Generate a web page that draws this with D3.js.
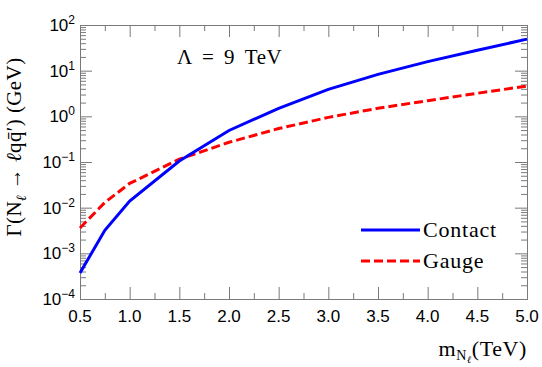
<!DOCTYPE html>
<html>
<head>
<meta charset="utf-8">
<script src="https://cdn.jsdelivr.net/npm/d3@7"></script>
<style>
  body { margin: 0; background: #fff; }
  svg { display: block; }
</style>
</head>
<body>
<svg width="542" height="367"></svg>
<script>
// heavy neutrino mass (TeV)
const masses = [0.5, 0.75, 1.0, 1.5, 2.0, 2.5, 3.0, 3.5, 4.0, 4.5, 5.0];
// decay width in GeV
const contactWidth = [3.7e-4, 3.2e-3, 0.014, 0.105, 0.49, 1.5, 3.9, 8.3, 15.8, 28, 49];
const gaugeWidth = [3.6e-3, 0.013, 0.034, 0.115, 0.27, 0.54, 0.95, 1.5, 2.2, 3.2, 4.6];
const xTicks = [0.5, 1.0, 1.5, 2.0, 2.5, 3.0, 3.5, 4.0, 4.5, 5.0];
const yDecades = [-4, -3, -2, -1, 0, 1, 2];

const svg = d3.select("svg");
const pLeft = 80, pRight = 527, pTop = 25, pBottom = 299;
const axisColor = "#7a7a7a";

const x = d3.scaleLinear().domain([0.5, 5]).range([pLeft, pRight]);
const y = d3.scaleLog().domain([1e-4, 1e2]).range([pBottom, pTop]);

// minor tick values
const xMinor = d3.range(0.5, 5.001, 0.25).filter(v => Math.abs(v * 2 - Math.round(v * 2)) > 1e-6);
const yMinor = [];
yDecades.slice(0, -1).forEach(e => {
  for (let k = 2; k <= 9; k++) yMinor.push(k * Math.pow(10, e));
});
const yMajor = yDecades.map(e => Math.pow(10, e));

function styleAxis(g) {
  g.select(".domain").attr("stroke", axisColor);
  g.selectAll(".tick line").attr("stroke", axisColor);
  g.selectAll(".tick text").remove();
}

// bottom + top axes, ticks pointing inward
svg.append("g").attr("transform", `translate(0,${pBottom})`)
  .call(d3.axisBottom(x).tickValues(xTicks).tickSize(-12).tickSizeOuter(0)).call(styleAxis);
svg.append("g").attr("transform", `translate(0,${pBottom})`)
  .call(d3.axisBottom(x).tickValues(xMinor).tickSize(-6).tickSizeOuter(0)).call(styleAxis);
svg.append("g").attr("transform", `translate(0,${pTop})`)
  .call(d3.axisTop(x).tickValues(xTicks).tickSize(-12).tickSizeOuter(0)).call(styleAxis);
svg.append("g").attr("transform", `translate(0,${pTop})`)
  .call(d3.axisTop(x).tickValues(xMinor).tickSize(-6).tickSizeOuter(0)).call(styleAxis);

// left + right axes
svg.append("g").attr("transform", `translate(${pLeft},0)`)
  .call(d3.axisLeft(y).tickValues(yMajor).tickSize(-12).tickSizeOuter(0)).call(styleAxis);
svg.append("g").attr("transform", `translate(${pLeft},0)`)
  .call(d3.axisLeft(y).tickValues(yMinor).tickSize(-6).tickSizeOuter(0)).call(styleAxis);
svg.append("g").attr("transform", `translate(${pRight},0)`)
  .call(d3.axisRight(y).tickValues(yMajor).tickSize(-12).tickSizeOuter(0)).call(styleAxis);
svg.append("g").attr("transform", `translate(${pRight},0)`)
  .call(d3.axisRight(y).tickValues(yMinor).tickSize(-6).tickSizeOuter(0)).call(styleAxis);

const sans = "'Liberation Sans', Arial, sans-serif";
const serif = "'Liberation Serif', 'Times New Roman', serif";

// tick labels
svg.append("g").selectAll("text").data(xTicks).join("text")
  .attr("x", d => x(d)).attr("y", pBottom + 23)
  .attr("text-anchor", "middle")
  .attr("font-family", sans)
  .attr("font-size", 17)
  .text(d => d.toFixed(1));

const yl = svg.append("g").selectAll("text").data(yDecades).join("text")
  .attr("x", pLeft - 5).attr("y", d => y(Math.pow(10, d)) + 6)
  .attr("text-anchor", "end")
  .attr("font-family", sans)
  .attr("font-size", 17);
yl.append("tspan").text("10");
yl.append("tspan").attr("dy", -7).attr("font-size", 12)
  .text(d => d < 0 ? "\u2212" + (-d) : String(d));

// curves
const line = d3.line().x(d => x(d[0])).y(d => y(d[1]));
svg.append("path").datum(masses.map((m, i) => [m, gaugeWidth[i]]))
  .attr("d", line).attr("fill", "none").attr("stroke", "#ff0000")
  .attr("stroke-width", 3).attr("stroke-dasharray", "9,4");
svg.append("path").datum(masses.map((m, i) => [m, contactWidth[i]]))
  .attr("d", line).attr("fill", "none").attr("stroke", "#0000ff")
  .attr("stroke-width", 3);

// legend
const legend = [
  { name: "Contact", color: "#0000ff", dash: null },
  { name: "Gauge", color: "#ff0000", dash: "9,4" }
];
legend.forEach((d, i) => {
  const ly = 230 + i * 31;
  svg.append("line").attr("x1", 361).attr("x2", 420).attr("y1", ly).attr("y2", ly)
    .attr("stroke", d.color).attr("stroke-width", 3)
    .attr("stroke-dasharray", d.dash);
  svg.append("text").attr("x", 423).attr("y", ly + 7)
    .attr("font-family", serif).attr("font-size", 22)
    .attr("letter-spacing", 0.8).text(d.name);
});

// annotation
svg.append("text").attr("x", 177).attr("y", 64)
  .attr("font-family", serif).attr("font-size", 21)
  .attr("letter-spacing", 0.5).attr("word-spacing", 4)
  .text("\u039B = 9 TeV");

// x title
const xt = svg.append("text").attr("x", pRight).attr("y", 356)
  .attr("text-anchor", "end").attr("font-family", serif).attr("font-size", 22)
  .attr("letter-spacing", 0.6);
xt.append("tspan").text("m");
xt.append("tspan").attr("dy", 4).attr("font-size", 14).text("N");
xt.append("tspan").attr("dy", 3).attr("font-size", 10).attr("font-style", "italic").text("\u2113");
xt.append("tspan").attr("dy", -7).text("(TeV)");

// y title
const yt = svg.append("text")
  .attr("transform", `translate(21,147) rotate(-90)`)
  .attr("text-anchor", "middle").attr("font-family", serif).attr("font-size", 21)
  .attr("letter-spacing", 0.4);
yt.append("tspan").text("\u0393(N");
yt.append("tspan").attr("dy", 5).attr("font-size", 14).attr("font-style", "italic").text("\u2113");
yt.append("tspan").attr("dy", -5).text(" \u2192 ");
yt.append("tspan").attr("font-style", "italic").text("\u2113");
yt.append("tspan").text("q\u0071\u0304\u2032)  (GeV)");
</script>
</body>
</html>
